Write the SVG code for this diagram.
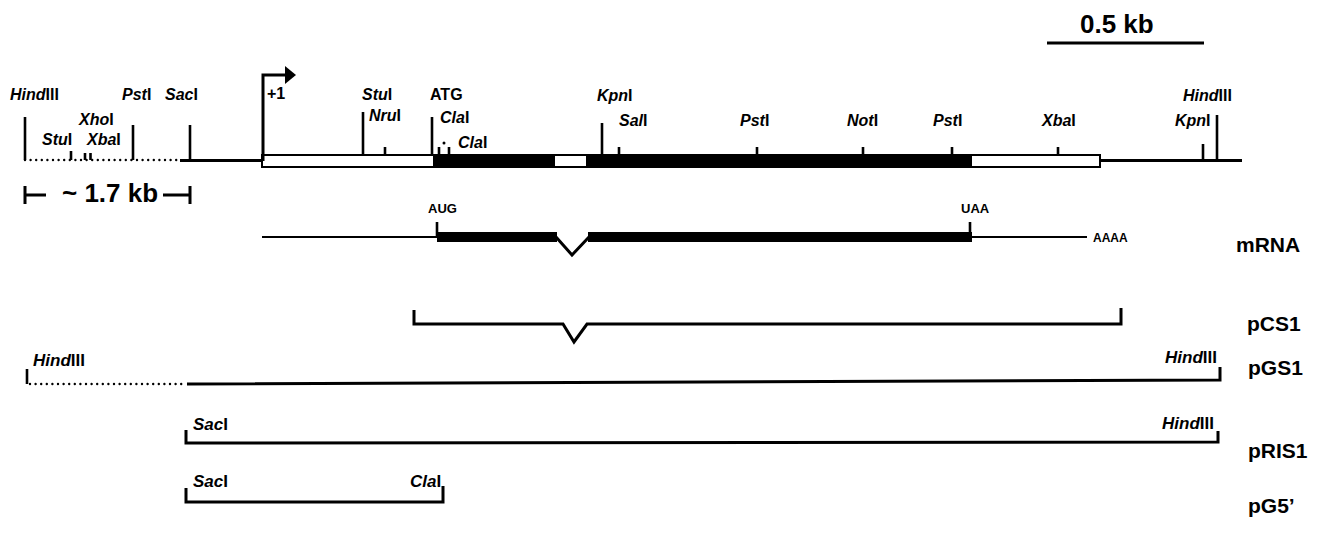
<svg xmlns="http://www.w3.org/2000/svg" width="1326" height="533" viewBox="0 0 1326 533">
<style>
.ln{stroke:#000;stroke-width:3;fill:none;stroke-linecap:butt}
.tk{stroke:#000;stroke-width:2.6;fill:none}
.dot{stroke:#000;stroke-width:2.4;fill:none;stroke-dasharray:0 5.6;stroke-linecap:round}
.t{font-family:"Liberation Sans",Arial,sans-serif;font-weight:bold;fill:#000}
.s{font-size:16px}
.b{font-size:17px}
.big{font-size:26px}
.lab{font-size:21px}
.i{font-style:italic}
</style>
<rect width="1326" height="533" fill="#fff"/>

<g id="scale">
  <line class="ln" x1="1047" y1="43" x2="1204" y2="43"/>
  <text class="t big" x="1080" y="33">0.5 kb</text>
</g>

<g id="genomic-map">
  <line class="dot" x1="25" y1="160" x2="181" y2="160"/>
  <line class="ln" x1="180" y1="160.5" x2="262" y2="160.5"/>
  <line class="ln" x1="1100" y1="160.5" x2="1242" y2="160.5"/>
  <rect x="262" y="155" width="838" height="12" fill="#fff" stroke="#000" stroke-width="2"/>
  <rect x="433" y="155" width="122" height="12" fill="#000"/>
  <rect x="586" y="155" width="386" height="12" fill="#000"/>
  <path class="ln" d="M263,161 V75 H286"/>
  <polygon points="285,66 296,75 285,84" fill="#000"/>
  <g class="tk">
    <line x1="25" y1="117" x2="25" y2="160"/>
    <line x1="71" y1="151" x2="71" y2="160"/>
    <line x1="85" y1="153" x2="85" y2="160"/>
    <line x1="90.5" y1="153" x2="90.5" y2="160"/>
    <line x1="133" y1="125" x2="133" y2="160"/>
    <line x1="190" y1="125" x2="190" y2="160"/>
    <line x1="363" y1="112" x2="363" y2="155"/>
    <line x1="385" y1="147" x2="385" y2="155"/>
    <line x1="432" y1="117" x2="432" y2="155"/>
    <line x1="439" y1="147" x2="439" y2="155"/>
    <line x1="449" y1="147" x2="449" y2="155"/>
    <line x1="602" y1="123" x2="602" y2="155"/>
    <line x1="619" y1="147" x2="619" y2="155"/>
    <line x1="757" y1="147" x2="757" y2="155"/>
    <line x1="863" y1="147" x2="863" y2="155"/>
    <line x1="952" y1="147" x2="952" y2="155"/>
    <line x1="1058" y1="147" x2="1058" y2="155"/>
    <line x1="1203" y1="144" x2="1203" y2="160"/>
    <line x1="1217" y1="115" x2="1217" y2="160"/>
  </g>
  <circle cx="444" cy="143" r="1.5" fill="#000"/>
  <text class="t s" x="10" y="100"><tspan class="i">Hind</tspan>III</text>
  <text class="t s" x="79" y="125"><tspan class="i">Xho</tspan>I</text>
  <text class="t s" x="42" y="145"><tspan class="i">Stu</tspan>I</text>
  <text class="t s" x="87" y="145"><tspan class="i">Xba</tspan>I</text>
  <text class="t s" x="122" y="100"><tspan class="i">Pst</tspan>I</text>
  <text class="t s" x="165" y="100"><tspan class="i">Sac</tspan>I</text>
  <text class="t s" x="267" y="99">+1</text>
  <text class="t s" x="362" y="100"><tspan class="i">Stu</tspan>I</text>
  <text class="t s" x="369" y="121"><tspan class="i">Nru</tspan>I</text>
  <text class="t s" x="430" y="100">ATG</text>
  <text class="t s" x="440" y="123"><tspan class="i">Cla</tspan>I</text>
  <text class="t s" x="458" y="148"><tspan class="i">Cla</tspan>I</text>
  <text class="t s" x="597" y="101"><tspan class="i">Kpn</tspan>I</text>
  <text class="t s" x="619" y="126"><tspan class="i">Sal</tspan>I</text>
  <text class="t s" x="740" y="126"><tspan class="i">Pst</tspan>I</text>
  <text class="t s" x="847" y="126"><tspan class="i">Not</tspan>I</text>
  <text class="t s" x="933" y="126"><tspan class="i">Pst</tspan>I</text>
  <text class="t s" x="1042" y="126"><tspan class="i">Xba</tspan>I</text>
  <text class="t s" x="1183" y="101"><tspan class="i">Hind</tspan>III</text>
  <text class="t s" x="1175" y="126"><tspan class="i">Kpn</tspan>I</text>
  <path class="ln" d="M25,186 V204 M25,195 H46 M163,195 H190 M190,186 V204"/>
  <text class="t big" x="62" y="202">~ 1.7 kb</text>
</g>

<g id="mRNA">
  <line x1="262" y1="237" x2="437" y2="237" stroke="#000" stroke-width="2"/>
  <line class="tk" x1="437" y1="222" x2="437" y2="237"/>
  <rect x="437" y="232" width="120" height="10" fill="#000"/>
  <polyline class="ln" points="556,237 572,255 589,237"/>
  <rect x="588" y="232" width="384" height="10" fill="#000"/>
  <line class="tk" x1="970" y1="222" x2="970" y2="237"/>
  <line x1="970" y1="237" x2="1087" y2="237" stroke="#000" stroke-width="2"/>
  <text class="t" style="font-size:13px" x="428" y="213">AUG</text>
  <text class="t" style="font-size:13px" x="961" y="213">UAA</text>
  <text class="t" style="font-size:12px" x="1093" y="242">AAAA</text>
  <text class="t lab" x="1236" y="252">mRNA</text>
</g>

<g id="pCS1">
  <path class="ln" d="M414,310 V324 H563 L574,342 L587,324 H1121 V308"/>
  <text class="t lab" x="1247" y="331">pCS1</text>
</g>

<g id="pGS1">
  <line class="tk" x1="27" y1="369" x2="27" y2="384"/>
  <line class="dot" x1="30" y1="384" x2="186" y2="384"/>
  <path class="ln" d="M187,384 L1220,380 V367"/>
  <text class="t b" x="33" y="366"><tspan class="i">Hind</tspan>III</text>
  <text class="t b" x="1165" y="363"><tspan class="i">Hind</tspan>III</text>
  <text class="t lab" x="1248" y="375">pGS1</text>
</g>

<g id="pRIS1">
  <path class="ln" d="M186,430 V443 L1218,442 V431"/>
  <text class="t b" x="193" y="430"><tspan class="i">Sac</tspan>I</text>
  <text class="t b" x="1162" y="429"><tspan class="i">Hind</tspan>III</text>
  <text class="t lab" x="1248" y="458">pRIS1</text>
</g>

<g id="pG5">
  <path class="ln" d="M186,488 V502 H443 V486"/>
  <text class="t b" x="193" y="487"><tspan class="i">Sac</tspan>I</text>
  <text class="t b" x="410" y="487"><tspan class="i">Cla</tspan>I</text>
  <text class="t lab" x="1248" y="513">pG5’</text>
</g>
</svg>
